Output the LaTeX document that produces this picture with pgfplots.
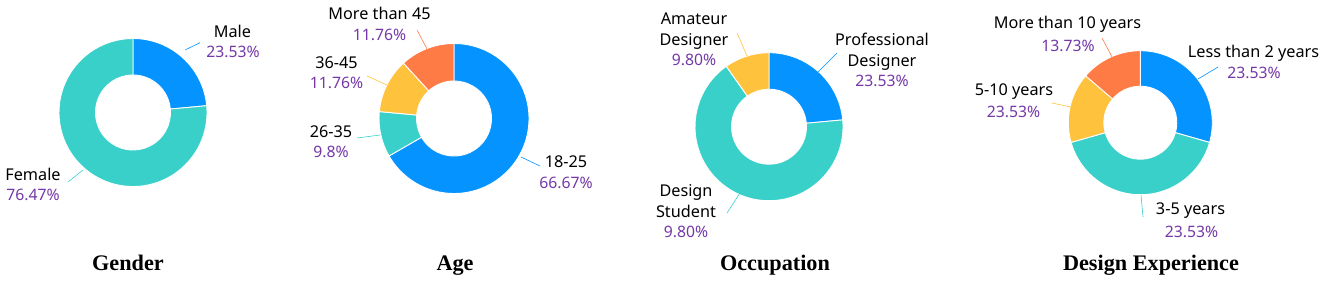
\documentclass[border=0pt]{standalone}
\usepackage{pgfplots}
\pgfplotsset{compat=1.18}
\usepackage{pgfplotstable}
\usepackage{fontspec}
\setmainfont{Liberation Serif}
\newfontfamily\lab{Noto Sans}
\definecolor{cblue}{HTML}{0593FF}
\definecolor{cteal}{HTML}{3AD0CA}
\definecolor{cyel}{HTML}{FFC23D}
\definecolor{corg}{HTML}{FF7B46}
\definecolor{cpur}{HTML}{7438A8}

% drawn shares (percent), clockwise from 12 o'clock
\pgfplotstableread{
val col
23.53 cblue
76.47 cteal
}\tgender
\pgfplotstableread{
val col
66.67 cblue
9.80 cteal
11.76 cyel
11.76 corg
}\tage
\pgfplotstableread{
val col
23.53 cblue
66.67 cteal
9.80 cyel
}\tocc
\pgfplotstableread{
val col
29.41 cblue
41.18 cteal
15.69 cyel
13.73 corg
}\texp

\gdef\donutpaths{}
\newcommand\buildDonut[5]{%
  \pgfplotstablegetrowsof{#1}\pgfmathtruncatemacro\nlast{\pgfplotsretval-1}%
  \gdef\accang{0}%
  \foreach \i in {0,...,\nlast}{%
    \pgfplotstablegetelem{\i}{val}\of{#1}\let\v\pgfplotsretval
    \pgfplotstablegetelem{\i}{col}\of{#1}\let\cc\pgfplotsretval
    \pgfmathsetmacro\aA{90-\accang*3.6}%
    \pgfmathsetmacro\aB{90-(\accang+\v)*3.6}%
    \pgfmathsetmacro\xA{#2+#4*cos(\aA)}%
    \pgfmathsetmacro\yA{#3-#4*sin(\aA)}%
    \pgfmathsetmacro\xB{#2+#5*cos(\aB)}%
    \pgfmathsetmacro\yB{#3-#5*sin(\aB)}%
    \xdef\donutpaths{\donutpaths
      \noexpand\fill[\cc, draw=white, line width=0.9bp] (axis cs:\xA,\yA)
        arc[start angle=\aA, end angle=\aB, radius=#4bp]
        -- (axis cs:\xB,\yB)
        arc[start angle=\aB, end angle=\aA, radius=#5bp] -- cycle;}%
    \pgfmathsetmacro\tmp{\accang+\v}\xdef\accang{\tmp}%
  }%
}
\buildDonut{\tgender}{133}{112.5}{74}{37.5}
\buildDonut{\tage}{454}{118.5}{75}{37.5}
\buildDonut{\tocc}{769}{126.7}{74}{37.5}
\buildDonut{\texp}{1140.3}{122.7}{72}{36.5}

\newcommand\lb[3]{\node[anchor=base, inner sep=0pt, font=\lab\fontsize{16.3}{19}\selectfont] at (axis cs:#1,#2) {#3};}
\newcommand\pc[3]{\node[anchor=base, inner sep=0pt, text=cpur, font=\lab\fontsize{15.8}{19}\selectfont] at (axis cs:#1,#2) {#3};}
\newcommand\ttl[2]{\node[anchor=base, inner sep=0pt, font=\bfseries\fontsize{22.3}{26}\selectfont] at (axis cs:#1,270) {#2};}

\begin{document}
\begin{tikzpicture}
\begin{axis}[width=1328bp, height=282bp, scale only axis,
  xmin=0, xmax=1328, ymin=0, ymax=282, y dir=reverse,
  hide axis, clip=false]
\path (rel axis cs:0,0) rectangle (rel axis cs:1,1);
\donutpaths
% Gender
\draw[cblue, line width=0.6bp] (axis cs:185,50) -- (axis cs:200,42.7);
\draw[cteal, line width=0.6bp] (axis cs:83,170) -- (axis cs:68,182);
\lb{232.5}{37}{Male}\pc{233}{57}{23.53\%}
\lb{33}{180}{Female}\pc{33}{200}{76.47\%}
\ttl{128}{Gender}
% Age
\draw[corg, line width=0.6bp] (axis cs:427,49) -- (axis cs:417,30);
\draw[cyel, line width=0.6bp] (axis cs:387,85) -- (axis cs:367,76);
\draw[cteal, line width=0.6bp] (axis cs:380,135) -- (axis cs:357,138);
\draw[cblue, line width=0.6bp] (axis cs:521,157) -- (axis cs:540,166);
\lb{379.5}{19.5}{More than 45}\pc{379.5}{40}{11.76\%}
\lb{336.5}{68}{36-45}\pc{336.5}{88.5}{11.76\%}
\lb{331}{137}{26-35}\pc{331}{157}{9.8\%}
\lb{566}{167}{18-25}\pc{566}{188}{66.67\%}
\ttl{455}{Age}
% Occupation
\draw[cyel, line width=0.6bp] (axis cs:747,56) -- (axis cs:737,33);
\draw[cblue, line width=0.6bp] (axis cs:818,72) -- (axis cs:837,53);
\draw[cteal, line width=0.6bp] (axis cs:740,193) -- (axis cs:727,213);
\lb{694}{25}{Amateur}\lb{694}{45}{Designer}\pc{694}{65}{9.80\%}
\lb{882}{45}{Professional}\lb{882}{66}{Designer}\pc{882}{86.5}{23.53\%}
\lb{686}{196.5}{Design}\lb{686}{217}{Student}\pc{686}{237}{9.80\%}
\ttl{775}{Occupation}
% Design Experience
\draw[corg, line width=0.6bp] (axis cs:1112,57) -- (axis cs:1102,38);
\draw[cblue, line width=0.6bp] (axis cs:1198,79) -- (axis cs:1218,67);
\draw[cyel, line width=0.6bp] (axis cs:1071,107) -- (axis cs:1052,103);
\draw[cteal, line width=0.6bp] (axis cs:1141,195) -- (axis cs:1143,217);
\lb{1067.5}{29}{More than 10 years}\pc{1068}{51}{13.73\%}
\lb{1253.5}{57}{Less than 2 years}\pc{1254}{78}{23.53\%}
\lb{1014}{95}{5-10 years}\pc{1013.5}{117}{23.53\%}
\lb{1190.5}{214}{3-5 years}\pc{1191.5}{237}{23.53\%}
\ttl{1151}{Design Experience}
\end{axis}
\end{tikzpicture}
\end{document}
